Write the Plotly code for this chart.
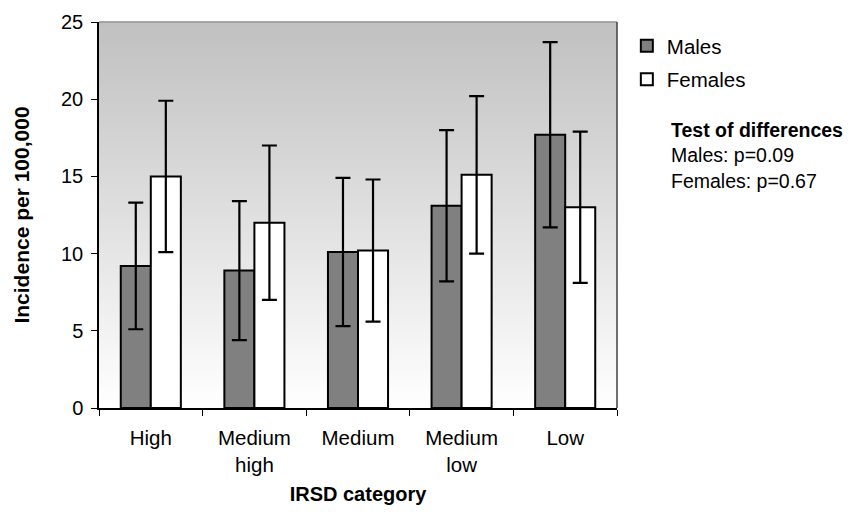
import plotly.graph_objects as go

# IRSD categories and incidence (per 100,000) with 95% confidence limits
categories = ["High", "Medium<br>high", "Medium", "Medium<br>low", "Low"]

males = [9.2, 8.9, 10.1, 13.1, 17.7]
males_upper = [13.3, 13.4, 14.9, 18.0, 23.7]
males_lower = [5.1, 4.4, 5.3, 8.2, 11.7]

females = [15.0, 12.0, 10.2, 15.1, 13.0]
females_upper = [19.9, 17.0, 14.8, 20.2, 17.9]
females_lower = [10.1, 7.0, 5.6, 10.0, 8.1]

y_ticks = [0, 5, 10, 15, 20, 25]

FONT = "Arial, Liberation Sans, sans-serif"


def err(vals, upper, lower):
    return dict(
        type="data",
        symmetric=False,
        array=[u - v for u, v in zip(upper, vals)],
        arrayminus=[v - l for v, l in zip(vals, lower)],
        color="black",
        thickness=2.2,
        width=7.5,
    )


fig = go.Figure()
fig.add_trace(go.Bar(
    x=categories, y=males, name="Males", legendgroup="m",
    marker=dict(color="#808080", line=dict(color="black", width=2)),
    error_y=err(males, males_upper, males_lower),
))
fig.add_trace(go.Bar(
    x=categories, y=females, name="Females", legendgroup="f",
    marker=dict(color="white", line=dict(color="black", width=2)),
    error_y=err(females, females_upper, females_lower),
))

# vertical grey-to-white gradient behind the bars
n_bands = 90
for i in range(n_bands):
    t = i / n_bands
    g = round(255 - (255 - 192) * (t + 0.5 / n_bands))
    fig.add_shape(
        type="rect", xref="x domain", yref="y domain",
        x0=0, x1=1, y0=t, y1=(i + 1) / n_bands + 0.002,
        fillcolor=f"rgb({g},{g},{g})", line=dict(width=0), layer="below",
    )
# plot-area frame (top and right)
fig.add_shape(type="line", xref="x domain", yref="y domain", x0=0, x1=1, y0=1, y1=1,
              line=dict(color="#808080", width=1.2), layer="above")
fig.add_shape(type="line", xref="x domain", yref="y domain", x0=1, x1=1, y0=0, y1=1,
              line=dict(color="#404040", width=1.5), layer="above")

# significance-test note beside the legend
fig.add_annotation(
    text="<b>Test of differences</b><br>Males: p=0.09<br>Females: p=0.67",
    xref="paper", yref="paper", x=1.100, y=0.655,
    xanchor="left", yanchor="middle", align="left", showarrow=False,
    font=dict(family=FONT, size=19.5, color="black"),
)

fig.update_layout(
    width=860, height=529,
    margin=dict(l=99, r=243, t=22, b=121),
    paper_bgcolor="white", plot_bgcolor="white",
    barmode="group", bargap=0.42, bargroupgap=0,
    font=dict(family=FONT, size=20, color="black"),
    showlegend=True,
    legend=dict(x=1.019, y=0.99, xanchor="left", yanchor="top",
                traceorder="grouped", tracegroupgap=4,
                font=dict(family=FONT, size=20.5, color="black"),
                bgcolor="rgba(0,0,0,0)"),
    xaxis=dict(
        title=dict(text="<b>IRSD category</b>", font=dict(size=20), standoff=12),
        showline=True, linecolor="black", linewidth=1.5,
        ticks="outside", tickson="boundaries", ticklen=6, tickcolor="black",
        tickfont=dict(size=20.5), ticklabelstandoff=11,
        showgrid=False, zeroline=False,
    ),
    yaxis=dict(
        title=dict(text="<b>Incidence per 100,000</b>", font=dict(size=21), standoff=26),
        range=[0, 25], tickvals=y_ticks, showline=True, linecolor="black", linewidth=1.5,
        ticks="outside", ticklen=6, tickcolor="black", tickfont=dict(size=20),
        ticklabelstandoff=4, showgrid=False, zeroline=False,
    ),
)

fig.write_html("out.html")
